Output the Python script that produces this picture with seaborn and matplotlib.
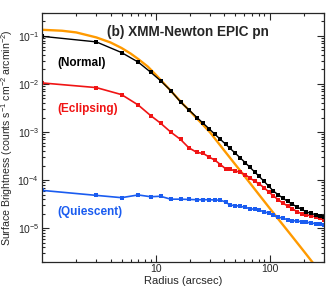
import numpy as np
import pandas as pd
import matplotlib
matplotlib.use('Agg')
import matplotlib.pyplot as plt
import seaborn as sns
from matplotlib.ticker import LogLocator, NullFormatter

# radial bins (arcsec) shared by the three observed profiles
radius = [1, 3, 5, 7, 9, 11, 13.5, 16.5, 19.5, 23, 26, 29.5, 33, 37, 41, 45, 50, 55,
          61, 67, 74, 81, 89, 98, 108, 119, 131, 144, 158, 174, 191, 210, 231, 254, 279, 300]

normal = [0.098, 0.075, 0.045, 0.0285, 0.0176, 0.0117, 0.0073, 0.0042, 0.0029, 0.0020,
          0.00153, 0.00116, 9.0e-4, 7.0e-4, 5.6e-4, 4.55e-4, 3.6e-4, 2.92e-4,
          2.3e-4, 1.85e-4, 1.47e-4, 1.19e-4, 9.5e-5, 7.5e-5, 5.9e-5, 4.95e-5, 4.2e-5, 3.6e-5,
          3.15e-5, 2.77e-5, 2.46e-5, 2.19e-5, 2.02e-5, 1.9e-5, 1.78e-5, 1.7e-5]

eclipsing = [0.0105, 0.0084, 0.0060, 0.00365, 0.0022, 0.00153, 1.0e-3, 7.0e-4, 4.7e-4, 3.75e-4,
             3.6e-4, 3.0e-4, 2.6e-4, 2.1e-4, 1.72e-4, 1.67e-4, 1.55e-4, 1.45e-4,
             1.3e-4, 1.1e-4, 9.5e-5, 8.3e-5, 7.0e-5, 5.7e-5, 4.7e-5, 3.9e-5, 3.3e-5, 2.9e-5,
             2.55e-5, 2.2e-5, 2.0e-5, 1.9e-5, 1.8e-5, 1.72e-5, 1.62e-5, 1.5e-5]

quiescent = [6.1e-5, 4.8e-5, 4.3e-5, 4.9e-5, 4.5e-5, 4.6e-5, 4.0e-5, 4.0e-5, 3.95e-5, 3.9e-5,
             3.9e-5, 3.9e-5, 3.85e-5, 3.8e-5, 3.5e-5, 3.0e-5, 2.95e-5, 2.85e-5,
             2.7e-5, 2.55e-5, 2.45e-5, 2.35e-5, 2.2e-5, 2.05e-5, 1.85e-5, 1.7e-5, 1.6e-5, 1.5e-5,
             1.44e-5, 1.4e-5, 1.37e-5, 1.33e-5, 1.28e-5, 1.24e-5, 1.19e-5, 1.15e-5]

# PSF model curve
model_r = [1, 1.5, 2, 3, 4, 5, 6, 7, 8.5, 10, 13, 17, 20, 25, 30, 40, 50, 60, 80, 100, 150, 200, 250]
model_s = [0.134, 0.128, 0.118, 0.093, 0.073, 0.056, 0.043, 0.033, 0.023, 0.0155, 0.0080, 0.0040,
           0.0027, 0.00155, 9.8e-4, 4.1e-4, 2.1e-4, 1.22e-4, 5.1e-5, 2.6e-5, 7.8e-6, 3.3e-6, 1.68e-6]

sns.set_style('ticks')
plt.rcParams['font.family'] = ['Liberation Sans', 'DejaVu Sans']
plt.rcParams['mathtext.fontset'] = 'custom'
plt.rcParams['mathtext.rm'] = 'Liberation Sans'
plt.rcParams['mathtext.it'] = 'Liberation Sans:italic'
plt.rcParams['mathtext.bf'] = 'Liberation Sans:bold'

fig = plt.figure(figsize=(3.36, 2.88), dpi=100)
ax = fig.add_axes([0.125, 0.0913, 0.839, 0.8637])

sns.lineplot(x=model_r, y=model_s, ax=ax, color='#FF9A00', lw=1.7, sort=False)
sns.lineplot(x=radius, y=quiescent, ax=ax, color='#1A5CF0', lw=1.2, marker='s',
             markersize=2.5, markeredgewidth=0, sort=False)
sns.lineplot(x=radius, y=eclipsing, ax=ax, color='#F01414', lw=1.2, marker='s',
             markersize=2.5, markeredgewidth=0, sort=False)
sns.lineplot(x=radius, y=normal, ax=ax, color='black', lw=1.0, marker='s',
             markersize=2.4, markeredgewidth=0, sort=False)

ax.set_xscale('log')
ax.set_yscale('log')
ax.set_xlim(1, 300)
ax.set_ylim(2e-6, 0.3)

ax.yaxis.set_major_locator(LogLocator(base=10, numticks=10))
ax.yaxis.set_minor_locator(LogLocator(base=10, subs=np.arange(2, 10), numticks=20))
ax.yaxis.set_minor_formatter(NullFormatter())
ax.xaxis.set_minor_locator(LogLocator(base=10, subs=np.arange(2, 10), numticks=20))
ax.xaxis.set_minor_formatter(NullFormatter())
ax.set_xticks([10, 100])
ax.set_xticklabels(['10', '100'])

ax.tick_params(which='both', direction='in', top=True, right=True, labelsize=7.5,
               width=0.8, pad=2)
ax.tick_params(which='major', length=5)
ax.tick_params(which='minor', length=2.5)
for sp in ax.spines.values():
    sp.set_linewidth(0.9)

ax.set_xlabel('Radius (arcsec)', fontsize=8, labelpad=1)
ax.set_ylabel('Surface Brightness (counts s$^{-1}$ cm$^{-2}$ arcmin$^{-2}$)', fontsize=7.6, labelpad=2)

ax.text(0.518, 0.925, '(b) XMM-Newton EPIC pn', transform=ax.transAxes, ha='center', va='center',
        fontsize=9.8, fontweight='bold')
ax.text(0.054, 0.797, '(Normal)', transform=ax.transAxes, fontsize=8.5, fontweight='bold',
        color='black', va='center')
ax.text(0.054, 0.614, '(Eclipsing)', transform=ax.transAxes, fontsize=8.5, fontweight='bold',
        color='#F01414', va='center')
ax.text(0.054, 0.2, '(Quiescent)', transform=ax.transAxes, fontsize=8.5, fontweight='bold',
        color='#1A5CF0', va='center')

fig.savefig('out.png', dpi=100)
